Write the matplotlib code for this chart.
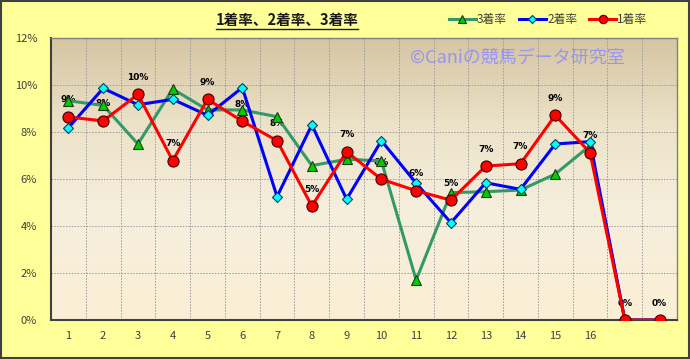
import matplotlib
matplotlib.use("Agg")
import matplotlib.pyplot as plt
import numpy as np
from matplotlib.patches import Rectangle
from matplotlib.lines import Line2D

plt.rcParams['font.family'] = ['Noto Sans CJK JP', 'DejaVu Sans']

categories = ['1', '2', '3', '4', '5', '6', '7', '8', '9', '10', '11', '12', '13', '14', '15', '16', '', '']
rate1 = [8.64, 8.47, 9.60, 6.78, 9.39, 8.46, 7.63, 4.85, 7.16, 5.99, 5.50, 5.10, 6.55, 6.65, 8.71, 7.12, 0.0, 0.0]
rate2 = [8.18, 9.86, 9.16, 9.39, 8.71, 9.89, 5.25, 8.30, 5.14, 7.63, 5.82, 4.14, 5.84, 5.56, 7.49, 7.59, 0.0, 0.0]
rate3 = [9.33, 9.13, 7.49, 9.83, 8.94, 8.94, 8.65, 6.57, 6.84, 6.77, 1.70, 5.42, 5.46, 5.53, 6.21, 7.42, 0.0, 0.0]
series_names = ['3着率', '2着率', '1着率']
title = '1着率、2着率、3着率'
watermark = '©Caniの競馬データ研究室'

W, H = 690, 359
fig = plt.figure(figsize=(W / 100, H / 100), dpi=100)
fig.patch.set_facecolor('#FFFF99')
fig.patches.append(Rectangle((0.0015, 0.003), 0.997, 0.994, transform=fig.transFigure,
                             fill=False, edgecolor='#404040', linewidth=1.5, zorder=10))

ax = fig.add_axes([51 / W, 1 - 320 / H, (677 - 51) / W, (320 - 38) / H])
n = len(categories)
x = np.arange(n)
ax.set_xlim(-0.5, n - 0.5)
ax.set_ylim(0, 12)

# gradient background
grad_colors = np.array([[0xD5, 0xC5, 0xA3], [0xEC, 0xE2, 0xC8], [0xF5, 0xEE, 0xDC], [0xFC, 0xEF, 0xD6]]) / 255.0
stops = np.array([0.0, 0.3, 0.6, 1.0])
t = np.linspace(0, 1, 256)
img = np.stack([np.interp(t, stops, grad_colors[:, c]) for c in range(3)], axis=1)[:, None, :]
ax.imshow(img, extent=[-0.5, n - 0.5, 0, 12], aspect='auto', origin='upper', zorder=0)

# grid
for b in np.arange(0.5, n - 0.5, 1):
    ax.axvline(b, color='#9A9A9A', linestyle=(0, (1.5, 1.5)), linewidth=0.7, zorder=1)
for yv in [2, 4, 6, 8, 10]:
    ax.axhline(yv, color='#9A9A9A', linestyle=(0, (1.5, 1.5)), linewidth=0.7, zorder=1)

ax.plot(x, rate3, color='#339966', linewidth=2.2, marker='^', markersize=6.5,
        markerfacecolor='#00CC00', markeredgecolor='#1A3A1A', markeredgewidth=0.8, zorder=3)
ax.plot(x, rate2, color='#0000FF', linewidth=2.2, marker='D', markersize=5,
        markerfacecolor='#00FFFF', markeredgecolor='#004060', markeredgewidth=0.8, zorder=4)
ax.plot(x, rate1, color='#FF0000', linewidth=2.2, marker='o', markersize=8,
        markerfacecolor='#FF0000', markeredgecolor='#400000', markeredgewidth=0.8, zorder=5)

for xi, v in zip(x, rate1):
    ax.annotate(f'{round(v):.0f}%', (xi, v), xytext=(0, 9), textcoords='offset points',
                ha='center', va='bottom', fontsize=6.5, fontweight='bold', color='black', zorder=2.5,
                family=['DejaVu Sans'])

ax.set_xticks(x)
ax.set_xticklabels(categories, fontsize=8, color='#404040')
ax.set_yticks([0, 2, 4, 6, 8, 10, 12])
ax.set_yticklabels([f'{v}%' for v in [0, 2, 4, 6, 8, 10, 12]], fontsize=8, color='#404040')
ax.tick_params(axis='both', length=0, pad=8)
ax.tick_params(axis='y', pad=10)
for s in ['top', 'right']:
    ax.spines[s].set_color('#808080')
    ax.spines[s].set_linewidth(1)
for s in ['left', 'bottom']:
    ax.spines[s].set_color('#404040')
    ax.spines[s].set_linewidth(1.5)

ax.text((410 - 51) / (677 - 51), 1 - (58 - 38) / (320 - 38), watermark, transform=ax.transAxes,
        fontsize=13, color='#8C8CFF', alpha=0.85, ha='left', va='center', zorder=6)

t_ = fig.text(287 / W, 1 - 20 / H, title, ha='center', va='center', fontsize=10.5,
              fontweight='bold', color='#1A1A1A')
fig.canvas.draw()
bb = t_.get_window_extent()
fig.add_artist(Line2D([bb.x0 / W, bb.x1 / W], [(bb.y0 - 1) / H, (bb.y0 - 1) / H],
                      transform=fig.transFigure, color='#1A1A1A', linewidth=1))

handles = [
    Line2D([], [], color='#339966', linewidth=2.2, marker='^', markersize=5.5,
           markerfacecolor='#00CC00', markeredgecolor='#1A3A1A', markeredgewidth=0.8),
    Line2D([], [], color='#0000FF', linewidth=2.2, marker='D', markersize=4.5,
           markerfacecolor='#00FFFF', markeredgecolor='#004060', markeredgewidth=0.8),
    Line2D([], [], color='#FF0000', linewidth=2.2, marker='o', markersize=6,
           markerfacecolor='#FF0000', markeredgecolor='#400000', markeredgewidth=0.8),
]
fig.legend(handles, series_names, loc='center', bbox_to_anchor=(548 / W, 1 - 20 / H),
           ncol=3, frameon=False, fontsize=8.5, handlelength=2.3, handletextpad=0.1,
           columnspacing=1.0, labelcolor='#404040')

fig.savefig('out.png', dpi=100, facecolor=fig.get_facecolor())
